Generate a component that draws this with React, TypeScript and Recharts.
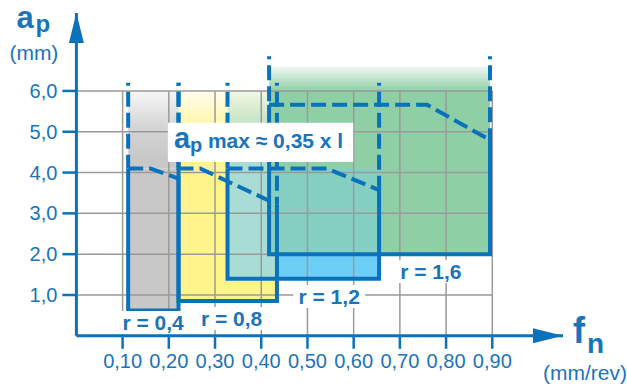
import React from 'react';
import { ComposedChart, XAxis, YAxis, Line, ReferenceArea, ReferenceLine, ReferenceDot } from 'recharts';

// ---------- axes ----------
const xTicks = [0.1, 0.2, 0.3, 0.4, 0.5, 0.6, 0.7, 0.8, 0.9];
const xTickLabels = ['0,10', '0,20', '0,30', '0,40', '0,50', '0,60', '0,70', '0,80', '0,90'];
const yTicks = [1, 2, 3, 4, 5, 6];
const yTickLabels = ['1,0', '2,0', '3,0', '4,0', '5,0', '6,0'];
const xAxisEnd = 1.053;
const yAxisEnd = 7.91;
const gridXEnd = 0.9;
const gridYEnd = 6;

// ---------- working ranges per insert radius ----------
const radiusLabels = ['r = 0,4', 'r = 0,8', 'r = 1,2', 'r = 1,6'];
const feedMin = [0.112, 0.221, 0.327, 0.417];
const feedMax = [0.221, 0.434, 0.655, 0.895];
const apMin = [0.62, 0.85, 1.4, 2.0];
const apMaxStart = [4.1, 4.1, 4.1, 5.66];
const apMaxKneeFeed = [0.16, 0.268, 0.542, 0.759];
const apMaxEnd = [3.85, 3.22, 3.57, 4.8];
const apRangeTop = [6.2, 6.2, 6.2, 6.85];
const fillSolidTop = [4.1, 4.1, 4.1, 6.0];
const fillFadeTop = [6.0, 6.0, 6.0, 6.6];

// ---------- styles / layout ----------
const BLUE = '#0a72ba';
const TEXT_BLUE = '#1a74ba';
const GRID = '#9a9a9a';
const FONT = '"Liberation Sans", Arial, Helvetica, sans-serif';
const solidColor = ['#c8c8c8', '#fff38c', '#6dcff6', '#8fcfa6'];
const fadeColor = ['#c8c8c8', '#fff38c', '#a9dcd5', '#8fcfa6'];
const overlaps = [
  { a: 2, b: 1, color: '#a9dcd5' },
  { a: 2, b: 3, color: '#84cfc1' },
];
const labelAnchor = [
  { x: 0.166, y: 0.142 },
  { x: 0.336, y: 0.24 },
  { x: 0.547, y: 0.78 },
  { x: 0.767, y: 1.39 },
];
const annoBox = { x1: 0.198, x2: 0.599, y1: 4.26, y2: 5.22 };

const solidRect = (i: number) => ({ x1: feedMin[i], x2: feedMax[i], y1: apMin[i], y2: fillSolidTop[i] });
const intersect = (p: any, q: any) => ({
  x1: Math.max(p.x1, q.x1),
  x2: Math.min(p.x2, q.x2),
  y1: Math.max(p.y1, q.y1),
  y2: Math.min(p.y2, q.y2),
});

const idx = [0, 1, 2, 3];

const lineProps = {
  dataKey: 'y',
  stroke: BLUE,
  strokeWidth: 4,
  dot: false,
  activeDot: false,
  isAnimationActive: false,
  legendType: 'none' as const,
  strokeLinejoin: 'miter' as const,
};

const YArrow = (p: any) => {
  const { cx, cy } = p;
  return (
    <g>
      <polygon points={`${cx},${cy} ${cx - 7.5},${cy + 30} ${cx + 7.5},${cy + 30}`} fill={BLUE} />
      <text x={cx - 60} y={cy + 15} fill={TEXT_BLUE} fontFamily={FONT} fontWeight="bold" fontSize={31}>a</text>
      <text x={cx - 41} y={cy + 19} fill={TEXT_BLUE} fontFamily={FONT} fontWeight="bold" fontSize={24}>p</text>
      <text x={cx - 67} y={cy + 47} fill={TEXT_BLUE} fontFamily={FONT} fontSize={21}>(mm)</text>
    </g>
  );
};

const XArrow = (p: any) => {
  const { cx, cy } = p;
  return (
    <g>
      <polygon points={`${cx},${cy} ${cx - 30},${cy - 7.5} ${cx - 30},${cy + 7.5}`} fill={BLUE} />
      <text x={cx + 10} y={cy + 7} fill={TEXT_BLUE} fontFamily={FONT} fontWeight="bold" fontSize={36}>f</text>
      <text x={cx + 24} y={cy + 17} fill={TEXT_BLUE} fontFamily={FONT} fontWeight="bold" fontSize={28}>n</text>
      <text x={cx - 20} y={cy + 44} fill={TEXT_BLUE} fontFamily={FONT} fontSize={21}>(mm/rev)</text>
    </g>
  );
};

const makeRadiusLabel = (text: string) => (p: any) => {
  const { cx, cy } = p;
  const w = 66;
  return (
    <g>
      <rect x={cx - w / 2 - 3} y={cy - 19} width={w + 6} height={23} fill="#ffffff" />
      <text x={cx} y={cy} textAnchor="middle" fill={TEXT_BLUE} fontFamily={FONT} fontWeight="bold" fontSize={21}>
        {text}
      </text>
    </g>
  );
};

const annoLabel = (props: any) => {
  const vb = props.viewBox || {};
  const x = vb.x;
  const y = vb.y;
  return (
    <g>
      <text x={x + 6} y={y + 25} fill={TEXT_BLUE} fontFamily={FONT} fontWeight="bold" fontSize={29}>a</text>
      <text x={x + 22} y={y + 29} fill={TEXT_BLUE} fontFamily={FONT} fontWeight="bold" fontSize={20}>p</text>
      <text x={x + 40} y={y + 25} fill={TEXT_BLUE} fontFamily={FONT} fontWeight="bold" fontSize={21}>max ≈ 0,35 x l</text>
    </g>
  );
};

export default function App() {
  return (
    <div style={{ position: 'absolute', left: 0, top: 0, width: 627, height: 387, background: '#ffffff' }}>
      <ComposedChart width={627} height={387} margin={{ top: 13, right: 64, bottom: 0, left: 0 }}>
        <defs>
          {idx.map((i) => (
            <linearGradient key={`g${i}`} id={`fade${i}`} x1="0" y1="0" x2="0" y2="1">
              {i === 3 ? (
                <>
                  <stop offset="0" stopColor={fadeColor[i]} stopOpacity={0.12} />
                  <stop offset="1" stopColor={fadeColor[i]} stopOpacity={1} />
                </>
              ) : (
                <>
                  <stop offset="0" stopColor={fadeColor[i]} stopOpacity={0.15} />
                  <stop offset="0.45" stopColor={fadeColor[i]} stopOpacity={0.75} />
                  <stop offset="0.85" stopColor={fadeColor[i]} stopOpacity={1} />
                  <stop offset="1" stopColor={fadeColor[i]} stopOpacity={1} />
                </>
              )}
            </linearGradient>
          ))}
        </defs>
        <XAxis
          type="number"
          dataKey="x"
          domain={[0, xAxisEnd]}
          allowDataOverflow
          ticks={xTicks}
          interval={0}
          tickFormatter={(v: number, i: number) => xTickLabels[i]}
          height={51.2}
          axisLine={{ stroke: BLUE, strokeWidth: 3 }}
          tickLine={{ stroke: BLUE, strokeWidth: 2.5 }}
          tickSize={13}
          tickMargin={5}
          tick={{ fill: TEXT_BLUE, fontSize: 20, fontFamily: FONT }}
        />
        <YAxis
          type="number"
          domain={[0, yAxisEnd]}
          allowDataOverflow
          ticks={yTicks}
          interval={0}
          tickFormatter={(v: number, i: number) => yTickLabels[i]}
          width={76.4}
          axisLine={{ stroke: BLUE, strokeWidth: 3 }}
          tickLine={{ stroke: BLUE, strokeWidth: 2.5 }}
          tickSize={14}
          tickMargin={5}
          tick={{ fill: TEXT_BLUE, fontSize: 20, fontFamily: FONT }}
        />

        {/* fills */}
        {idx.map((i) => [
          <ReferenceArea
            key={`s${i}`}
            x1={feedMin[i]}
            x2={feedMax[i]}
            y1={apMin[i]}
            y2={fillSolidTop[i]}
            fill={solidColor[i]}
            fillOpacity={1}
            stroke="none"
            ifOverflow="visible"
          />,
          <ReferenceArea
            key={`f${i}`}
            x1={feedMin[i]}
            x2={feedMax[i]}
            y1={fillSolidTop[i]}
            y2={fillFadeTop[i]}
            fill={`url(#fade${i})`}
            fillOpacity={1}
            stroke="none"
            ifOverflow="visible"
          />,
        ])}
        {overlaps.map((o, k) => {
          const r = intersect(solidRect(o.a), solidRect(o.b));
          return (
            <ReferenceArea
              key={`o${k}`}
              x1={r.x1}
              x2={r.x2}
              y1={r.y1}
              y2={r.y2}
              fill={o.color}
              fillOpacity={1}
              stroke="none"
              ifOverflow="visible"
            />
          );
        })}

        {/* grid */}
        {xTicks.map((t) => (
          <ReferenceLine
            key={`gx${t}`}
            segment={[{ x: t, y: 0 }, { x: t, y: gridYEnd }]}
            stroke={GRID}
            strokeWidth={1.5}
            ifOverflow="visible"
          />
        ))}
        {yTicks.map((t) => (
          <ReferenceLine
            key={`gy${t}`}
            segment={[{ x: 0, y: t }, { x: gridXEnd, y: t }]}
            stroke={GRID}
            strokeWidth={1.5}
            ifOverflow="visible"
          />
        ))}

        {/* outlines */}
        {idx.map((i) => [
          <Line
            key={`ol${i}`}
            {...lineProps}
            data={[
              { x: feedMin[i], y: apMaxStart[i] },
              { x: feedMin[i], y: apMin[i] },
              { x: feedMax[i], y: apMin[i] },
              { x: feedMax[i], y: apMaxEnd[i] },
            ]}
          />,
          <Line
            key={`am${i}`}
            {...lineProps}
            strokeDasharray="15 6"
            data={[
              { x: feedMin[i], y: apMaxStart[i] },
              { x: apMaxKneeFeed[i], y: apMaxStart[i] },
              { x: feedMax[i], y: apMaxEnd[i] },
            ]}
          />,
          <Line
            key={`lv${i}`}
            {...lineProps}
            strokeDasharray="15 6"
            strokeDashoffset={12}
            data={[
              { x: feedMin[i], y: apRangeTop[i] },
              { x: feedMin[i], y: apMaxStart[i] },
            ]}
          />,
          <Line
            key={`rv${i}`}
            {...lineProps}
            strokeDasharray="15 6"
            strokeDashoffset={12}
            data={[
              { x: feedMax[i], y: apRangeTop[i] },
              { x: feedMax[i], y: apMaxEnd[i] },
            ]}
          />,
        ])}

        {/* annotation */}
        <ReferenceArea
          x1={annoBox.x1}
          x2={annoBox.x2}
          y1={annoBox.y1}
          y2={annoBox.y2}
          fill="#ffffff"
          fillOpacity={1}
          stroke="none"
          ifOverflow="visible"
          zIndex={1000}
          label={annoLabel}
        />
        {idx.map((i) => (
          <ReferenceDot
            key={`lab${i}`}
            x={labelAnchor[i].x}
            y={labelAnchor[i].y}
            ifOverflow="visible"
            zIndex={1000}
            shape={makeRadiusLabel(radiusLabels[i])}
          />
        ))}

        {/* axis arrows + titles */}
        <ReferenceDot x={0} y={yAxisEnd} ifOverflow="visible" zIndex={1000} shape={YArrow} />
        <ReferenceDot x={xAxisEnd} y={0} ifOverflow="visible" zIndex={1000} shape={XArrow} />
      </ComposedChart>
    </div>
  );
}
